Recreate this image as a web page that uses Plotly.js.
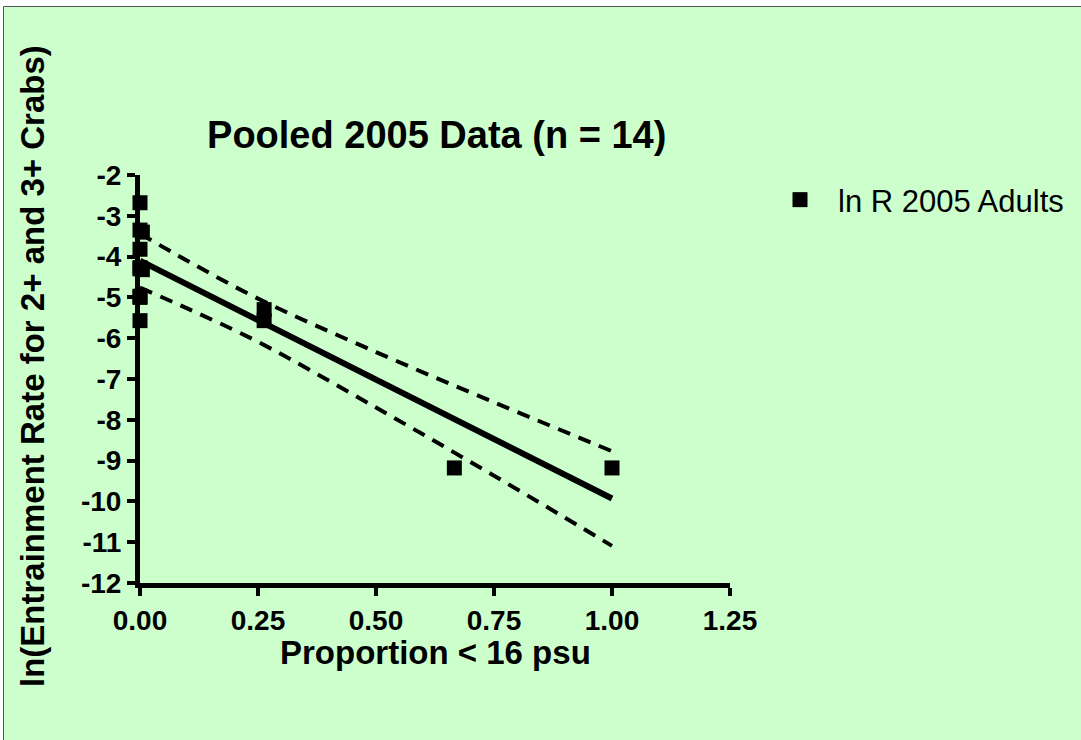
<!DOCTYPE html>
<html>
<head>
<meta charset="utf-8">
<script src="https://cdn.plot.ly/plotly-3.0.1.min.js"></script>
<style>html,body{margin:0;padding:0;background:#fff}#chart{width:1081px;height:740px}</style>
</head>
<body>
<div id="chart"></div>
<script>
// Observed points (proportion < 16 psu vs ln entrainment rate)
const proportion = [0, 0, 0.005, 0, 0, 0.005, 0, 0, 0, 0, 0.263, 0.263, 0.666, 1.0];
const lnRate = [-2.68, -3.35, -3.40, -3.82, -4.27, -4.32, -4.30, -4.97, -5.00, -5.57, -5.30, -5.57, -9.18, -9.18];

// Regression line and 95% confidence band
const fitX = [0, 1.0];
const fitY = [-4.10, -9.93];
const bandX = [0, 0.1, 0.25, 0.5, 0.75, 1.0];
const bandUpper = [-3.44, -4.10, -5.03, -6.34, -7.57, -8.77];
const bandLower = [-4.76, -5.27, -6.09, -7.70, -9.37, -11.09];

const xTicks = [0, 0.25, 0.5, 0.75, 1.0, 1.25];
const xTickText = ['0.00', '0.25', '0.50', '0.75', '1.00', '1.25'];
const yTicks = [-12, -11, -10, -9, -8, -7, -6, -5, -4, -3, -2];
const yTickText = yTicks.map(String);

const seriesName = 'ln R 2005 Adults';
const chartTitle = 'Pooled 2005 Data (n = 14)';
const xTitle = 'Proportion < 16 psu';
const yTitle = 'ln(Entrainment Rate for 2+ and 3+ Crabs)';

const FONT = 'Liberation Sans, Arial, sans-serif';
const GREEN = '#CCFFCC';

const traces = [
  {x: bandX, y: bandUpper, mode: 'lines', line: {color: '#000', width: 4, dash: '13px,9px', shape: 'spline'}, showlegend: false, hoverinfo: 'skip', cliponaxis: false},
  {x: bandX, y: bandLower, mode: 'lines', line: {color: '#000', width: 4, dash: '13px,9px', shape: 'spline'}, showlegend: false, hoverinfo: 'skip', cliponaxis: false},
  {x: fitX, y: fitY, mode: 'lines', line: {color: '#000', width: 6}, showlegend: false, hoverinfo: 'skip', cliponaxis: false},
  {x: proportion, y: lnRate, mode: 'markers', name: seriesName, marker: {symbol: 'square', size: 15, color: '#000', line: {width: 0}}, cliponaxis: false}
];

const layout = {
  width: 1081, height: 740,
  margin: {l: 140, r: 351, t: 175, b: 157, pad: 0},
  paper_bgcolor: '#ffffff',
  plot_bgcolor: 'rgba(0,0,0,0)',
  font: {family: FONT, color: '#000'},
  title: {text: chartTitle, font: {family: FONT, size: 38, weight: 'bold', color: '#000'},
          x: 0.404, xref: 'container', xanchor: 'center', y: 1 - 135/740, yref: 'container', yanchor: 'middle'},
  xaxis: {
    range: [0, 1.25], tickmode: 'array', tickvals: xTicks, ticktext: xTickText,
    showline: true, linecolor: '#000', linewidth: 5, showgrid: false, zeroline: false,
    ticks: 'outside', ticklen: 8, tickwidth: 4, tickcolor: '#000',
    tickfont: {family: FONT, size: 28, weight: 'bold'},
    ticklabelstandoff: 0,
    title: {text: ''}
  },
  yaxis: {
    range: [-12, -2], tickmode: 'array', tickvals: yTicks, ticktext: yTickText,
    showline: true, linecolor: '#000', linewidth: 5, showgrid: false, zeroline: false,
    ticks: 'outside', ticklen: 8, tickwidth: 4, tickcolor: '#000',
    tickfont: {family: FONT, size: 28, weight: 'bold'},
    ticklabelstandoff: 0,
    title: {text: ''}
  },
  annotations: [
    {text: xTitle, xref: 'paper', yref: 'paper', x: 0.5, y: (583 - 652)/408, xanchor: 'center', yanchor: 'middle',
     showarrow: false, font: {family: FONT, size: 33, weight: 'bold', color: '#000'}},
    {text: yTitle, xref: 'paper', yref: 'paper', x: (32 - 140)/590, y: (583 - 366)/408, xanchor: 'center', yanchor: 'middle',
     textangle: -90, showarrow: false, font: {family: FONT, size: 33, weight: 'bold', color: '#000'}}
  ],
  showlegend: true,
  legend: {x: 762/1081, xref: 'container', xanchor: 'left', y: 1 - 200/740, yref: 'container', yanchor: 'middle',
           bgcolor: 'rgba(0,0,0,0)', borderwidth: 0, itemwidth: 66,
           font: {family: FONT, size: 31, color: '#000'}},
  shapes: [
    {type: 'rect', xref: 'paper', yref: 'paper', layer: 'below',
     x0: (3.5 - 140)/590, x1: (1095 - 140)/590, y0: (583 - 760)/408, y1: (583 - 6.5)/408,
     fillcolor: GREEN, line: {color: '#555', width: 1}}
  ]
};

Plotly.newPlot('chart', traces, layout, {displayModeBar: false, staticPlot: true});
</script>
</body>
</html>
